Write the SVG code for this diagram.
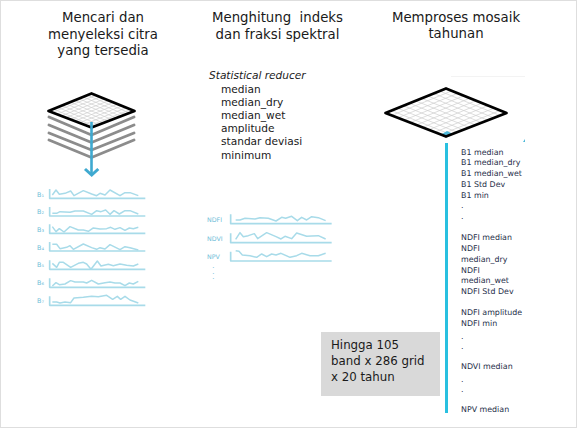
<svg xmlns="http://www.w3.org/2000/svg" width="577" height="428" viewBox="0 0 577 428">
<style>
text{font-family:"DejaVu Sans",sans-serif;fill:#1a1a1a}
.t{font-size:13.3px;text-anchor:middle}
.m{font-size:10.6px}
.r{font-size:7.9px;fill:#1f2f4a}
.b{font-size:11.8px}
.l{font-size:6.4px;fill:#6fbdd8}
.n{font-size:6.3px;fill:#6fbdd8}
.d{font-size:4.500px;font-weight:bold;fill:#6fbdd8}
.a{fill:none;stroke:#a8dbe9;stroke-width:5;stroke-linejoin:round}
.s{fill:none;stroke:#a8dbe9;stroke-width:4.500;stroke-linejoin:round}
.g{fill:none;stroke:#cfcfcf;stroke-width:.7}
#grid{vector-effect:non-scaling-stroke}
.y{fill:none;stroke:#8c8c8c;stroke-width:2.900;stroke-linejoin:round;stroke-linecap:round}
.k{fill:none;stroke:#000;stroke-width:2.800;stroke-linejoin:round}
</style>
<defs>
<path id="grid" d="M1 0V10M2 0V10M3 0V10M4 0V10M5 0V10M6 0V10M7 0V10M8 0V10M9 0V10M0 1H10M0 2H10M0 3H10M0 4H10M0 5H10M0 6H10M0 7H10M0 8H10M0 9H10"/>
</defs>
<rect x=".5" y=".5" width="576" height="427" fill="#fff" stroke="#dedede"/>
<g id="title-1"><text class="t" x="103" y="22">Mencari dan</text><text class="t" x="103" y="39">menyeleksi citra</text><text class="t" x="103" y="55">yang tersedia</text></g>
<g id="title-2"><text class="t" x="277.500" y="22" xml:space="preserve">Menghitung  indeks</text><text class="t" x="277.500" y="39">dan fraksi spektral</text></g>
<g id="title-3"><text class="t" x="456" y="22">Memproses mosaik</text><text class="t" x="456" y="38">tahunan</text></g>
<g id="stack">
<path class="y" d="M49 117L91.500 135L134 117M49 125L91.500 142.500L134 125M49 133L91.500 150L134 133M49 140L91.500 157.500L134 140"/>
<use href="#grid" class="g" transform="matrix(4.300 1.800 -4.300 1.700 91.500 93.500)"/>
<path class="k" d="M91.500 93.500L134.500 111L91.500 127.500L48.500 111Z"/>
</g>
<g id="connectors">
<path d="M91.500 122V174" fill="none" stroke="#3fa9d0" stroke-width="2.600"/>
<path d="M85 169L91.700 175L98.300 169" fill="none" stroke="#3fa9d0" stroke-width="3"/>
<rect x="445" y="143" width="3" height="270" fill="#29c0e0"/>
</g>
<g id="band-series" transform="translate(20 180) scale(.3333)">
<g id="b1"><path class="a" d="M89 27V55H376"/><path class="s" d="M97 45L108 30L118 43L135 40L152 33L162 47L190 32L215 42L230 47L240 40L255 45L270 30L300 47L315 38L330 38L355 47"/></g>
<g id="b2"><path class="a" d="M89 81V108H376"/><path class="s" d="M97 100L110 100L120 95L150 97L165 93L190 93L215 103L230 92L243 95L257 90L270 103L282 92L298 102L315 92L330 92L355 102"/></g>
<g id="b3"><path class="a" d="M89 133V160H376"/><path class="s" d="M97 140L108 155L118 146L132 156L150 140L175 150L190 150L205 154L220 144L240 147L260 146L272 142L285 148L300 143L315 151L328 144L340 146L355 142"/></g>
<g id="b4"><path class="a" d="M89 186V213H376"/><path class="s" d="M97 193L110 193L120 206L140 202L150 197L160 208L190 192L215 203L230 208L240 203L255 207L270 194L300 209L315 200L330 203L355 210"/></g>
<g id="b5"><path class="a" d="M89 241V268H376"/><path class="s" d="M97 250L110 262L118 247L130 247L152 262L175 250L190 247L200 252L213 268L232 243L243 258L265 253L280 257L300 252L320 256L340 258L355 252"/></g>
<g id="b6"><path class="a" d="M89 295V322H376"/><path class="s" d="M97 318L108 308L118 314L135 312L152 302L165 306L190 306L200 309L215 301L235 312L255 308L270 306L285 309L300 309L315 317L328 309L340 312L355 304"/></g>
<g id="b7"><path class="a" d="M89 349V376H376"/><path class="s" d="M97 366L110 366L120 369L135 366L152 368L162 354L190 352L215 349L235 350L260 346L278 358L292 349L302 358L315 349L330 360L355 369"/></g>
</g>
<g id="band-labels">
<text class="l" x="37" y="196.500">B₁</text><text class="l" x="37" y="214">B₂</text><text class="l" x="37" y="232">B₃</text><text class="l" x="37" y="249.500">B₄</text><text class="l" x="37" y="267">B₅</text><text class="l" x="37" y="285">B₆</text><text class="l" x="37" y="302.500">B₇</text>
</g>
<g id="reducer">
<text class="m" x="209" y="79" font-style="italic">Statistical reducer</text>
<text class="m" x="221" y="93">median</text><text class="m" x="221" y="106">median_dry</text><text class="m" x="221" y="119">median_wet</text><text class="m" x="221" y="132">amplitude</text><text class="m" x="221" y="145">standar deviasi</text><text class="m" x="221" y="159">minimum</text>
</g>
<g id="index-series" transform="translate(195 200) scale(.3333)">
<g id="ndfi"><path class="a" d="M107 43V71H410"/><path class="s" d="M122 60L135 60L150 55L180 57L195 53L220 55L243 63L260 52L272 55L290 49L307 62L320 52L335 60L350 50L370 53L392 62"/></g>
<g id="ndvi"><path class="a" d="M107 100V128H410"/><path class="s" d="M122 118L135 98L145 110L160 107L178 101L188 116L215 98L243 110L258 117L270 109L290 116L305 99L335 109L350 108L370 107L392 117"/></g>
<g id="npv"><path class="a" d="M107 155V183H410"/><path class="s" d="M122 152L132 154L142 165L165 167L185 172L200 162L215 170L230 162L243 165L258 160L285 172L305 167L320 160L345 167L370 167L392 160"/></g>
</g>
<g id="index-labels">
<text class="n" x="207" y="222">NDFI</text><text class="n" x="207" y="240.500">NDVI</text><text class="n" x="207" y="259">NPV</text>
<text class="d" x="212.500" y="268">.</text><text class="d" x="212.500" y="273.500">.</text><text class="d" x="212.500" y="279">.</text>
</g>
<g id="mosaic">
<path d="M451 76.500H525" stroke="#f3f3f3" stroke-width="1" fill="none"/>
<use href="#grid" class="g" transform="matrix(6.050 2.450 -6 2.450 445.500 88.500)"/>
<path d="M447 131L453 134L447.500 136.500L442 134Z" fill="#4db8d8"/>
<path class="k" d="M446 88.500L506.500 113L446 136.500L385.500 113Z"/>
<path d="M525 139V142H523Z" fill="#4db8d8"/>
</g>
<g id="mosaic-bands">
<text class="r" x="461" y="155">B1 median</text><text class="r" x="461" y="165">B1 median_dry</text><text class="r" x="461" y="176">B1 median_wet</text><text class="r" x="461" y="187">B1 Std Dev</text><text class="r" x="461" y="198">B1 min</text><text class="r" x="461" y="208">.</text><text class="r" x="461" y="219">.</text>
<text class="r" x="461" y="240">NDFI median</text><text class="r" x="461" y="251">NDFI</text><text class="r" x="461" y="261.500">median_dry</text><text class="r" x="461" y="273">NDFI</text><text class="r" x="461" y="283">median_wet</text><text class="r" x="461" y="294">NDFI Std Dev</text>
<text class="r" x="461" y="315">NDFI amplitude</text><text class="r" x="461" y="326">NDFI min</text><text class="r" x="461" y="339">.</text><text class="r" x="461" y="349">.</text>
<text class="r" x="461" y="369">NDVI median</text><text class="r" x="461" y="382">.</text><text class="r" x="461" y="392">.</text><text class="r" x="461" y="412">NPV median</text>
</g>
<g id="summary">
<rect x="321" y="332" width="119" height="64" fill="#d9d9d9"/>
<text class="b" x="331" y="349">Hingga 105</text><text class="b" x="331" y="365">band x 286 grid</text><text class="b" x="331" y="381">x 20 tahun</text>
</g>
</svg>
